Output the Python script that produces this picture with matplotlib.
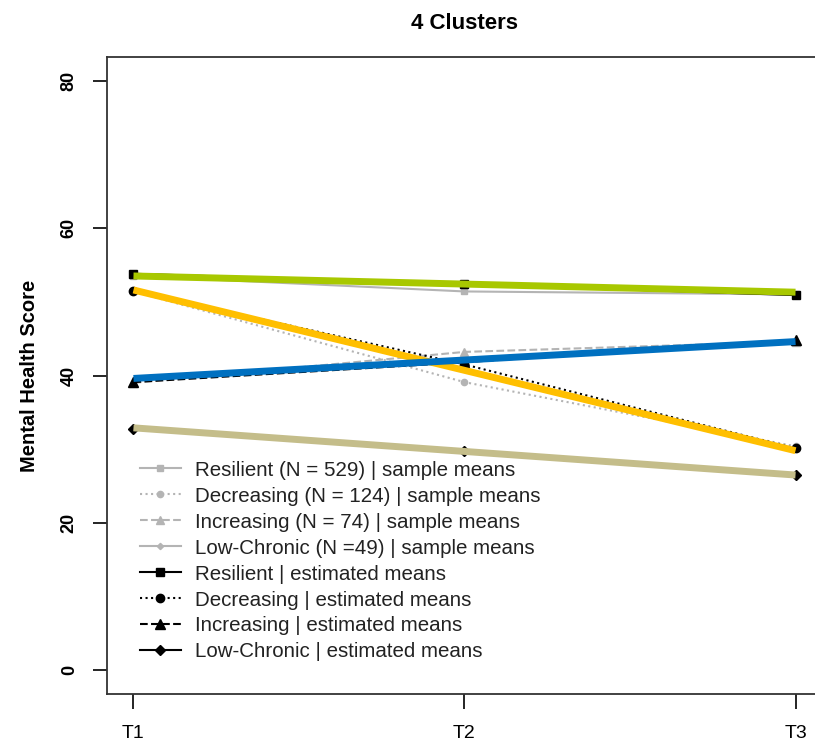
import numpy as np
import matplotlib
matplotlib.use("Agg")
import matplotlib.pyplot as plt

plt.rcParams['font.family'] = ['Liberation Sans', 'DejaVu Sans']

# Time points
times = ["T1", "T2", "T3"]
xpos = [1, 2, 3]

# Sample means per cluster (grey)
res_sample = [53.5, 51.4, 51.0]
dec_sample = [51.4, 39.1, 30.4]
inc_sample = [39.0, 43.2, 44.6]
low_sample = [32.8, 29.8, 26.6]

# Estimated means per cluster (black)
res_est = [53.8, 52.4, 50.9]
dec_est = [51.5, 41.5, 30.1]
inc_est = [39.1, 41.8, 44.8]
low_est = [32.7, 29.7, 26.5]

# Fitted linear trajectories (coloured)
res_fit = [53.5, 52.4, 51.3]
dec_fit = [51.6, 40.7, 29.8]
inc_fit = [39.6, 42.1, 44.6]
low_fit = [32.9, 29.7, 26.5]

sample_labels = ["Resilient (N = 529) | sample means",
                 "Decreasing (N = 124) | sample means",
                 "Increasing (N = 74) | sample means",
                 "Low-Chronic (N =49) | sample means"]
est_labels = ["Resilient | estimated means",
              "Decreasing | estimated means",
              "Increasing | estimated means",
              "Low-Chronic | estimated means"]

fig = plt.figure(figsize=[8.15, 7.45], dpi=100)
ax = fig.add_axes([107/815, 51/745, 715/815, 637/745])

grey = '#b4b4b4'
styles = [('-', 's', 4.5), (':', 'o', 4.5), ('--', '^', 5.5), ('-', 'D', 3.2)]

handles = []
for vals, lab, (ls, mk, ms) in zip([res_sample, dec_sample, inc_sample, low_sample],
                                   sample_labels, styles):
    h, = ax.plot(xpos, vals, color=grey, linestyle=ls, lw=1.5, marker=mk,
                 markersize=ms, label=lab)
    handles.append(h)

for vals, lab, (ls, mk, ms) in zip([res_est, dec_est, inc_est, low_est],
                                   est_labels, styles):
    h, = ax.plot(xpos, vals, color='black', linestyle=ls, lw=1.5, marker=mk,
                 markersize=ms + 1.5, label=lab)
    handles.append(h)

# coloured trajectories on top
for vals, col in zip([res_fit, dec_fit, inc_fit, low_fit],
                     ['#a8c800', '#ffbf00', '#0070c0', '#c4bd8a']):
    ax.plot(xpos, vals, color=col, lw=5, solid_capstyle='butt', zorder=5)

ax.set_xlim(0.92, 3.08)
ax.set_ylim(-3.2, 83.2)
ax.set_xticks(xpos)
ax.set_xticklabels(times, fontsize=14)
ax.set_yticks([0, 20, 40, 60, 80])
ax.set_yticklabels(['0', '20', '40', '60', '80'], rotation=90, va='center',
                   fontsize=13, fontweight='bold')
ax.tick_params(axis='x', length=11, width=1.2, pad=11)
ax.tick_params(axis='y', length=10, width=1.2, pad=11)
for sp in ax.spines.values():
    sp.set_linewidth(1.3)
    sp.set_color('#333333')

ax.set_ylabel('Mental Health Score', fontsize=14.5, fontweight='bold', labelpad=16)
ax.set_title('4 Clusters', fontsize=16, fontweight='bold', pad=20)

leg = ax.legend(handles=handles, loc='lower left', bbox_to_anchor=(0.02, 0.022),
                frameon=False, fontsize=14.8, handlelength=2.0, labelspacing=0.34,
                handletextpad=0.7)
for t in leg.get_texts():
    t.set_color('#222222')

fig.savefig('out.png', dpi=100)
